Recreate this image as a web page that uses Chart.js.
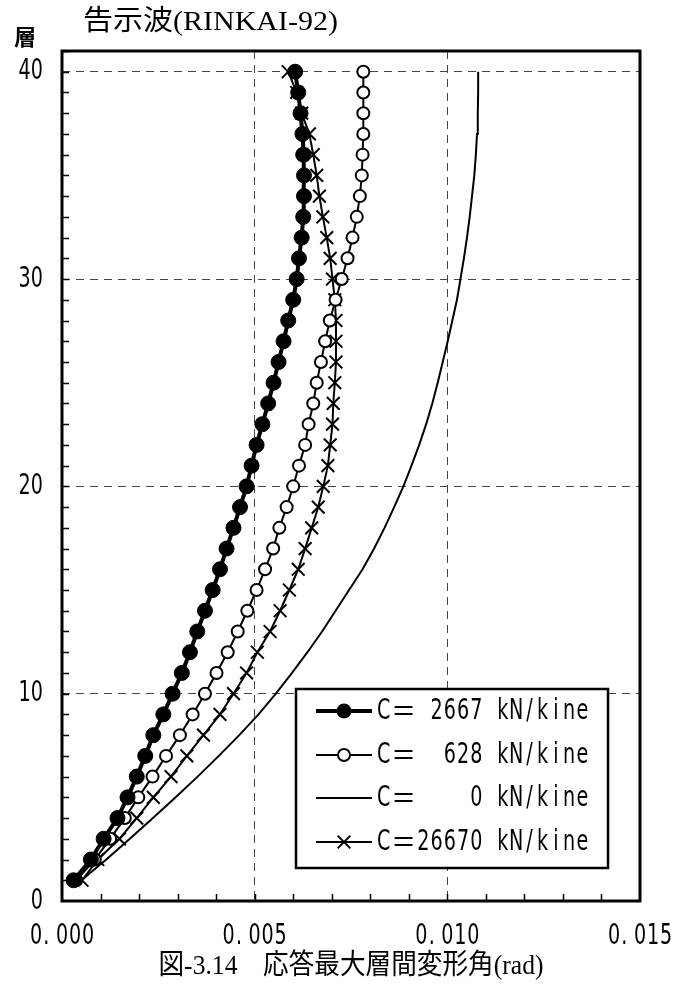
<!DOCTYPE html>
<html>
<head>
<meta charset="utf-8">
<script src="https://cdn.jsdelivr.net/npm/chart.js@4/dist/chart.umd.min.js"></script>
<style>
  html, body { margin: 0; padding: 0; background: #fff; }
  #wrap { position: relative; width: 675px; height: 992px; }
</style>
</head>
<body>
<div id="wrap"><canvas id="c" width="675" height="992"></canvas></div>
<script>
// Storey number (1 = first floor)
const floors = [1,2,3,4,5,6,7,8,9,10,11,12,13,14,15,16,17,18,19,20,
                21,22,23,24,25,26,27,28,29,30,31,32,33,34,35,36,37,38,39,40];

// Maximum inter-storey drift angle (rad) for each damping coefficient C
const driftC2667 = [0.00030,0.00075,0.00108,0.00144,0.00170,0.00194,0.00216,0.00237,0.00263,0.00287,
                    0.00311,0.00332,0.00351,0.00371,0.00391,0.00410,0.00427,0.00445,0.00462,0.00479,
                    0.00492,0.00505,0.00520,0.00535,0.00549,0.00562,0.00575,0.00587,0.00600,0.00609,
                    0.00615,0.00622,0.00626,0.00628,0.00628,0.00626,0.00624,0.00619,0.00613,0.00605];
const driftC628  = [0.00037,0.00085,0.00125,0.00163,0.00198,0.00235,0.00270,0.00306,0.00339,0.00371,
                    0.00401,0.00430,0.00456,0.00481,0.00505,0.00527,0.00548,0.00564,0.00583,0.00600,
                    0.00615,0.00631,0.00640,0.00652,0.00661,0.00672,0.00683,0.00695,0.00710,0.00726,
                    0.00741,0.00754,0.00765,0.00773,0.00778,0.00780,0.00782,0.00782,0.00782,0.00782];
const driftC0    = [0.00050,0.00115,0.00176,0.00236,0.00295,0.00352,0.00407,0.00460,0.00510,0.00555,
                    0.00597,0.00637,0.00675,0.00710,0.00745,0.00780,0.00810,0.00837,0.00862,0.00886,
                    0.00907,0.00927,0.00945,0.00961,0.00975,0.00988,0.01001,0.01013,0.01025,0.01034,
                    0.01043,0.01051,0.01058,0.01064,0.01070,0.01074,0.01077,0.01079,0.01080,0.01080];
const driftC26670= [0.00052,0.00093,0.00149,0.00194,0.00237,0.00283,0.00324,0.00367,0.00410,0.00445,
                    0.00479,0.00507,0.00540,0.00566,0.00590,0.00613,0.00631,0.00648,0.00665,0.00678,
                    0.00690,0.00696,0.00702,0.00704,0.00708,0.00711,0.00711,0.00711,0.00708,0.00702,
                    0.00696,0.00687,0.00677,0.00668,0.00661,0.00652,0.00642,0.00622,0.00609,0.00587];

const seriesLabels = ['C＝ 2667 kN/kine', 'C＝  628 kN/kine', 'C＝    0 kN/kine', 'C＝26670 kN/kine'];

const xTickValues = [0, 0.005, 0.010, 0.015];
const xTickLabels = ['0.000', '0.005', '0.010', '0.015'];
const yTickValues = [0, 10, 20, 30, 40];
const yTickLabels = ['0', '10', '20', '30', '40'];

const chartTitle = '告示波(RINKAI-92)';
const yUnit = '層';
const caption = '図-3.14　応答最大層間変形角(rad)';

const toPoints = arr => arr.map((v, i) => ({ x: v, y: floors[i] }));

const HALF_FONT = "'DejaVu Sans', 'Noto Sans CJK JP', sans-serif";
const FULL_FONT = "'Noto Sans CJK JP', sans-serif";
const SERIF_FONT = "'Liberation Serif', 'Noto Sans CJK JP', serif";

// Draw text on a fixed character grid (half-width = 1 cell, full-width = 2 cells),
// glyphs narrowed horizontally like a gothic fixed-pitch face.
function gridText(ctx, text, x, y, cell, size, sx, align) {
  const chars = Array.from(text);
  const units = chars.map(ch => ch.charCodeAt(0) > 0xff ? 2 : 1);
  const total = units.reduce((a, b) => a + b, 0) * cell;
  let cx = align === 'right' ? x - total : align === 'center' ? x - total / 2 : x;
  ctx.save();
  ctx.fillStyle = '#000';
  ctx.textAlign = 'center';
  ctx.textBaseline = 'middle';
  chars.forEach((ch, i) => {
    const w = units[i] * cell;
    if (ch !== ' ') {
      const full = units[i] === 2;
      ctx.font = size + 'px ' + (full ? FULL_FONT : HALF_FONT);
      let gx = cx + w / 2;
      if (ch === '.') gx = cx + w * 0.3;
      ctx.save();
      ctx.translate(gx, y);
      ctx.scale(full ? 0.85 : sx, 1);
      ctx.fillText(ch, 0, 0);
      ctx.restore();
    }
    cx += w;
  });
  ctx.restore();
}

// Serif text squeezed or stretched to a given width
function fitText(ctx, text, x, y, size, width, align) {
  ctx.save();
  ctx.font = size + 'px ' + SERIF_FONT;
  ctx.fillStyle = '#000';
  ctx.textBaseline = 'middle';
  ctx.textAlign = 'left';
  const w = ctx.measureText(text).width;
  const s = width / w;
  const x0 = align === 'center' ? x - width / 2 : x;
  ctx.translate(x0, y);
  ctx.scale(s, 1);
  ctx.fillText(text, 0, 0);
  ctx.restore();
}

function drawMarker(ctx, style, cx, cy) {
  ctx.save();
  ctx.strokeStyle = '#000';
  if (style.kind === 'filled') {
    ctx.fillStyle = '#000';
    ctx.beginPath(); ctx.arc(cx, cy, style.r, 0, Math.PI * 2); ctx.fill();
  } else if (style.kind === 'open') {
    ctx.fillStyle = '#fff';
    ctx.lineWidth = style.w;
    ctx.beginPath(); ctx.arc(cx, cy, style.r, 0, Math.PI * 2); ctx.fill(); ctx.stroke();
  } else if (style.kind === 'cross') {
    const d = style.r * Math.SQRT1_2;
    ctx.lineWidth = style.w;
    ctx.beginPath();
    ctx.moveTo(cx - d, cy - d); ctx.lineTo(cx + d, cy + d);
    ctx.moveTo(cx - d, cy + d); ctx.lineTo(cx + d, cy - d);
    ctx.stroke();
  }
  ctx.restore();
}

const legendStyles = [
  { line: 4, kind: 'filled', r: 7.5 },
  { line: 2, kind: 'open', r: 6, w: 2 },
  { line: 2, kind: 'none' },
  { line: 2, kind: 'cross', r: 9, w: 2 }
];

const decorations = {
  id: 'decorations',
  afterDraw(chart) {
    const { ctx, chartArea: a, scales: { x, y } } = chart;

    // minor tick marks pointing into the plot
    ctx.save();
    ctx.strokeStyle = '#000';
    ctx.lineWidth = 1.5;
    ctx.beginPath();
    for (let i = 1; i < 15; i++) {
      const px = Math.round(x.getPixelForValue(i * 0.001)) + 0.5;
      ctx.moveTo(px, a.bottom); ctx.lineTo(px, a.bottom - 7);
    }
    for (let f = 1; f <= 41; f++) {
      const py = Math.round(y.getPixelForValue(f)) + 0.5;
      ctx.moveTo(a.left, py); ctx.lineTo(a.left + 7, py);
    }
    ctx.stroke();

    // plot frame
    ctx.lineWidth = 3;
    ctx.strokeRect(a.left, a.top, a.right - a.left, a.bottom - a.top);
    ctx.restore();

    // tick labels
    yTickValues.forEach((v, i) => {
      gridText(ctx, yTickLabels[i], 43, y.getPixelForValue(v), 12.3, 29, 0.66, 'right');
    });
    xTickValues.forEach((v, i) => {
      gridText(ctx, xTickLabels[i], x.getPixelForValue(v), 936, 13, 29, 0.66, 'center');
    });

    // unit of the vertical axis
    ctx.save();
    ctx.font = "bold 22px 'Noto Sans CJK JP', sans-serif";
    ctx.textAlign = 'center';
    ctx.textBaseline = 'middle';
    ctx.fillStyle = '#000';
    ctx.fillText(yUnit, 25, 37);
    ctx.restore();

    // title and caption
    fitText(ctx, chartTitle, 83, 23, 28, 255, 'left');
    fitText(ctx, caption, (a.left + a.right) / 2, 967, 28, 385, 'center');

    // legend box
    const bx = 296, by = 689, bw = 312, bh = 179;
    ctx.save();
    ctx.fillStyle = '#fff';
    ctx.fillRect(bx, by, bw, bh);
    ctx.lineWidth = 2.5;
    ctx.strokeStyle = '#000';
    ctx.strokeRect(bx, by, bw, bh);
    ctx.restore();
    const rows = [711, 755, 798, 842];
    seriesLabels.forEach((label, i) => {
      const st = legendStyles[i];
      const ry = rows[i];
      ctx.save();
      ctx.strokeStyle = '#000';
      ctx.lineWidth = st.line;
      ctx.beginPath(); ctx.moveTo(316, ry); ctx.lineTo(372, ry); ctx.stroke();
      ctx.restore();
      drawMarker(ctx, st, 344, ry);
      gridText(ctx, label, 377, ry, 13.25, 29, 0.66, 'left');
    });
  }
};

const hiddenAtEdge = (lo, hi) => c => {
  const v = c.tick ? c.tick.value : null;
  if (v === null || Math.abs(v - lo) < 1e-9 || Math.abs(v - hi) < 1e-9) return 'rgba(0,0,0,0)';
  return '#444';
};

new Chart(document.getElementById('c'), {
  type: 'scatter',
  data: {
    datasets: [
      { label: seriesLabels[0], data: toPoints(driftC2667), showLine: true,
        borderColor: '#000', borderWidth: 4, pointStyle: 'circle', pointRadius: 7.5,
        pointBackgroundColor: '#000', pointBorderColor: '#000', pointBorderWidth: 1 },
      { label: seriesLabels[1], data: toPoints(driftC628), showLine: true,
        borderColor: '#000', borderWidth: 2, pointStyle: 'circle', pointRadius: 6,
        pointBackgroundColor: '#fff', pointBorderColor: '#000', pointBorderWidth: 2 },
      { label: seriesLabels[2], data: toPoints(driftC0), showLine: true,
        borderColor: '#000', borderWidth: 2, pointRadius: 0 },
      { label: seriesLabels[3], data: toPoints(driftC26670), showLine: true,
        borderColor: '#000', borderWidth: 2, pointStyle: 'crossRot', pointRadius: 9,
        pointBackgroundColor: '#000', pointBorderColor: '#000', pointBorderWidth: 2 }
    ]
  },
  options: {
    responsive: false,
    animation: false,
    layout: { padding: { left: 62, top: 51, right: 35, bottom: 91 } },
    plugins: { legend: { display: false }, tooltip: { enabled: false } },
    elements: { line: { tension: 0 } },
    scales: {
      x: {
        type: 'linear', min: 0, max: 0.015,
        ticks: { display: false, stepSize: 0.005 },
        grid: { drawTicks: false, lineWidth: 1, color: hiddenAtEdge(0, 0.015) },
        border: { display: false, dash: [8, 6] }
      },
      y: {
        type: 'linear', min: 0, max: 41,
        ticks: { display: false, stepSize: 10, includeBounds: false },
        grid: { drawTicks: false, lineWidth: 1, color: hiddenAtEdge(0, 41) },
        border: { display: false, dash: [8, 6] }
      }
    }
  },
  plugins: [decorations]
});
</script>
</body>
</html>
